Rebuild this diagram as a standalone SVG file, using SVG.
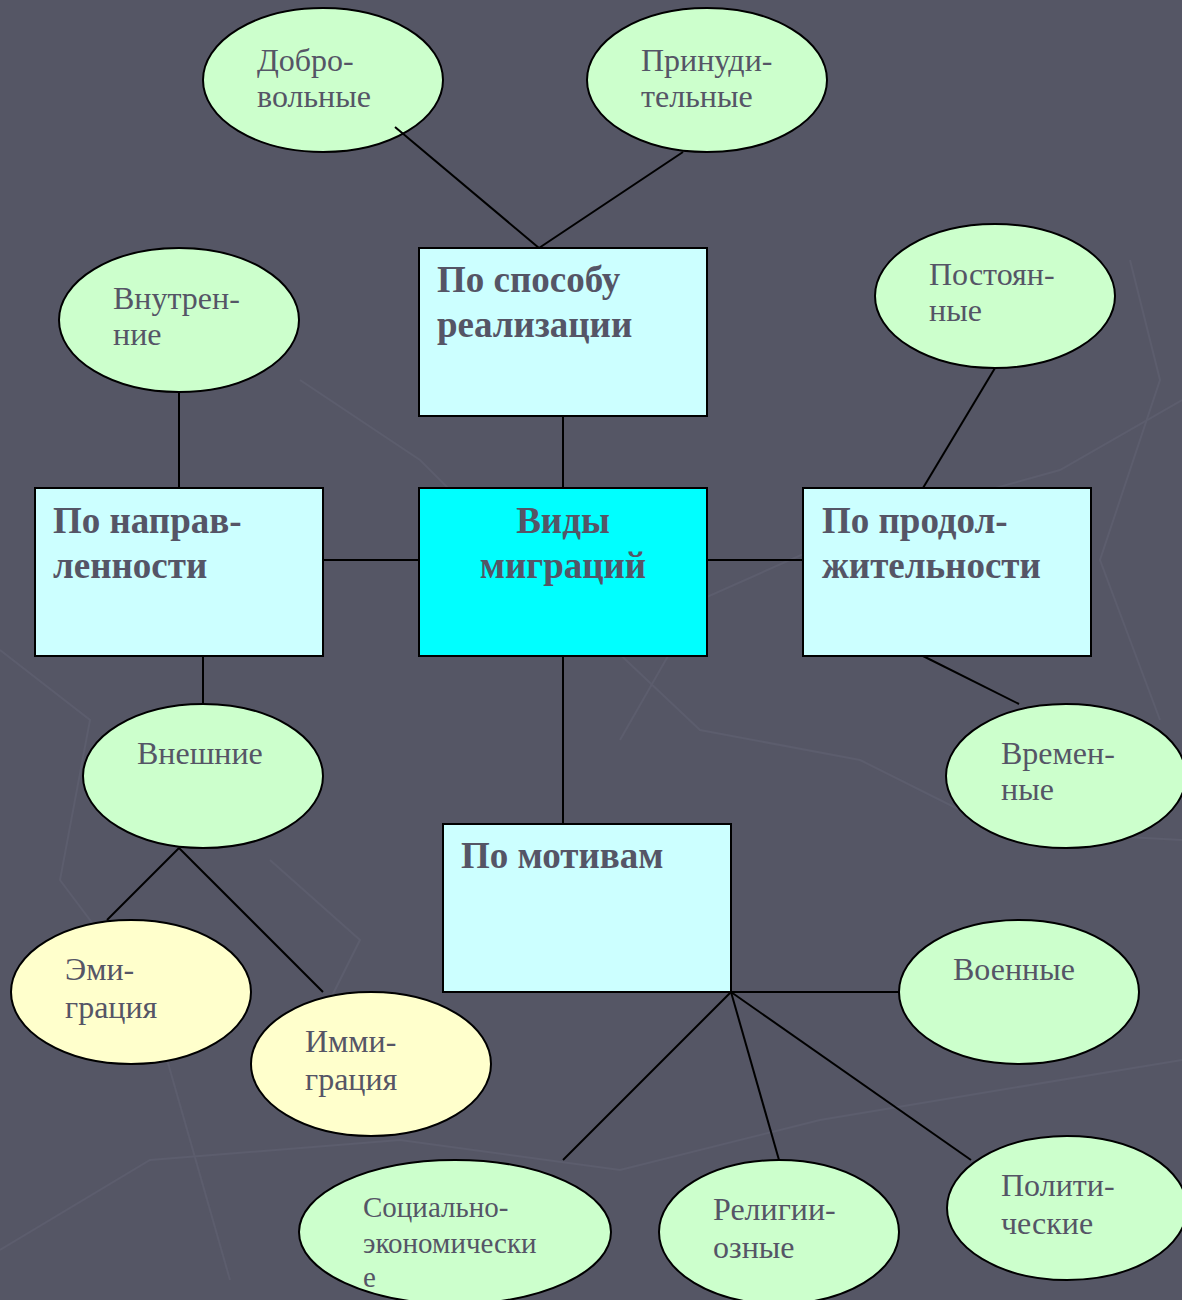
<svg xmlns="http://www.w3.org/2000/svg" width="1182" height="1300" viewBox="0 0 1182 1300">
<style>
.bg{fill:#555665}
.deco{fill:none;stroke:#5c5d6d;stroke-width:2}
.box{fill:#ccffff;stroke:#000;stroke-width:2}
.main{fill:#00ffff;stroke:#000;stroke-width:2}
.ell{fill:#ccffcc;stroke:#000;stroke-width:2}
.yel{fill:#ffffcc;stroke:#000;stroke-width:2}
.t{font-family:"Liberation Serif","Times New Roman",serif;font-size:32px;fill:#555566}
.ts{font-family:"Liberation Serif","Times New Roman",serif;font-size:29px;fill:#555566}
.b{font-family:"Liberation Serif","Times New Roman",serif;font-size:37px;font-weight:bold;fill:#555566}
#conn line{stroke:#000;stroke-width:2}
</style>
<rect class="bg" x="0" y="0" width="1182" height="1300"/>
<g id="decor">
<polyline class="deco" points="0,650 90,720 60,880 150,1000 230,1280"/>
<polyline class="deco" points="300,380 420,460 520,560 700,730 860,760 1000,830 1182,840"/>
<polyline class="deco" points="620,740 700,600 880,520 1060,470 1182,400"/>
<polyline class="deco" points="1130,260 1160,380 1100,560 1160,720"/>
<polyline class="deco" points="0,1250 150,1160 400,1140 620,1170 820,1120 1000,1090 1182,1060"/>
<polyline class="deco" points="270,860 360,940 330,1000"/>
</g>
<g id="n-sposob"><rect class="box" x="419" y="248" width="288" height="168"/><text class="b" x="437" y="292">По способу</text><text class="b" x="437" y="337">реализации</text></g>
<g id="n-naprav"><rect class="box" x="35" y="488" width="288" height="168"/><text class="b" x="53" y="533">По направ-</text><text class="b" x="53" y="578">ленности</text></g>
<g id="n-vidy"><rect class="main" x="419" y="488" width="288" height="168"/><text class="b" x="563" y="533" text-anchor="middle">Виды</text><text class="b" x="563" y="578" text-anchor="middle">миграций</text></g>
<g id="n-prodol"><rect class="box" x="803" y="488" width="288" height="168"/><text class="b" x="822" y="533">По продол-</text><text class="b" x="822" y="578">жительности</text></g>
<g id="n-motiv"><rect class="box" x="443" y="824" width="288" height="168"/><text class="b" x="461" y="868">По мотивам</text></g>
<g id="n-dobro"><ellipse class="ell" cx="323" cy="80" rx="120" ry="72"/><text class="t" x="257" y="71">Добро-</text><text class="t" x="257" y="107">вольные</text></g>
<g id="n-prinud"><ellipse class="ell" cx="707" cy="80" rx="120" ry="72"/><text class="t" x="641" y="71">Принуди-</text><text class="t" x="641" y="107">тельные</text></g>
<g id="n-vnutr"><ellipse class="ell" cx="179" cy="320" rx="120" ry="72"/><text class="t" x="113" y="309">Внутрен-</text><text class="t" x="113" y="345">ние</text></g>
<g id="n-postoyan"><ellipse class="ell" cx="995" cy="296" rx="120" ry="72"/><text class="t" x="929" y="285">Постоян-</text><text class="t" x="929" y="321">ные</text></g>
<g id="n-vneshn"><ellipse class="ell" cx="203" cy="776" rx="120" ry="72"/><text class="t" x="137" y="764">Внешние</text></g>
<g id="n-vremen"><ellipse class="ell" cx="1066" cy="776" rx="120" ry="72"/><text class="t" x="1001" y="764">Времен-</text><text class="t" x="1001" y="800">ные</text></g>
<g id="n-emi"><ellipse class="yel" cx="131" cy="992" rx="120" ry="72"/><text class="t" x="65" y="980">Эми-</text><text class="t" x="65" y="1018">грация</text></g>
<g id="n-immi"><ellipse class="yel" cx="371" cy="1064" rx="120" ry="72"/><text class="t" x="305" y="1052">Имми-</text><text class="t" x="305" y="1090">грация</text></g>
<g id="n-voen"><ellipse class="ell" cx="1019" cy="992" rx="120" ry="72"/><text class="t" x="953" y="980">Военные</text></g>
<g id="n-soc"><ellipse class="ell" cx="455" cy="1232" rx="156" ry="72"/><text class="ts" x="363" y="1217">Социально-</text><text class="ts" x="363" y="1253">экономически</text><text class="ts" x="363" y="1287">е</text></g>
<g id="n-relig"><ellipse class="ell" cx="779" cy="1232" rx="120" ry="72"/><text class="t" x="713" y="1220">Религии-</text><text class="t" x="713" y="1258">озные</text></g>
<g id="n-polit"><ellipse class="ell" cx="1067" cy="1208" rx="120" ry="72"/><text class="t" x="1001" y="1196">Полити-</text><text class="t" x="1001" y="1234">ческие</text></g>
<g id="conn">
<line x1="395" y1="127" x2="539" y2="248"/>
<line x1="683" y1="152" x2="539" y2="248"/>
<line x1="563" y1="416" x2="563" y2="488"/>
<line x1="179" y1="392" x2="179" y2="488"/>
<line x1="323" y1="560" x2="419" y2="560"/>
<line x1="707" y1="560" x2="803" y2="560"/>
<line x1="995" y1="368" x2="923" y2="488"/>
<line x1="923" y1="656" x2="1019" y2="704"/>
<line x1="203" y1="656" x2="203" y2="704"/>
<line x1="563" y1="656" x2="563" y2="824"/>
<line x1="179" y1="848" x2="107" y2="920"/>
<line x1="179" y1="848" x2="323" y2="992"/>
<line x1="731" y1="992" x2="899" y2="992"/>
<line x1="731" y1="992" x2="563" y2="1160"/>
<line x1="731" y1="992" x2="779" y2="1160"/>
<line x1="731" y1="992" x2="971" y2="1160"/>
</g>
</svg>
